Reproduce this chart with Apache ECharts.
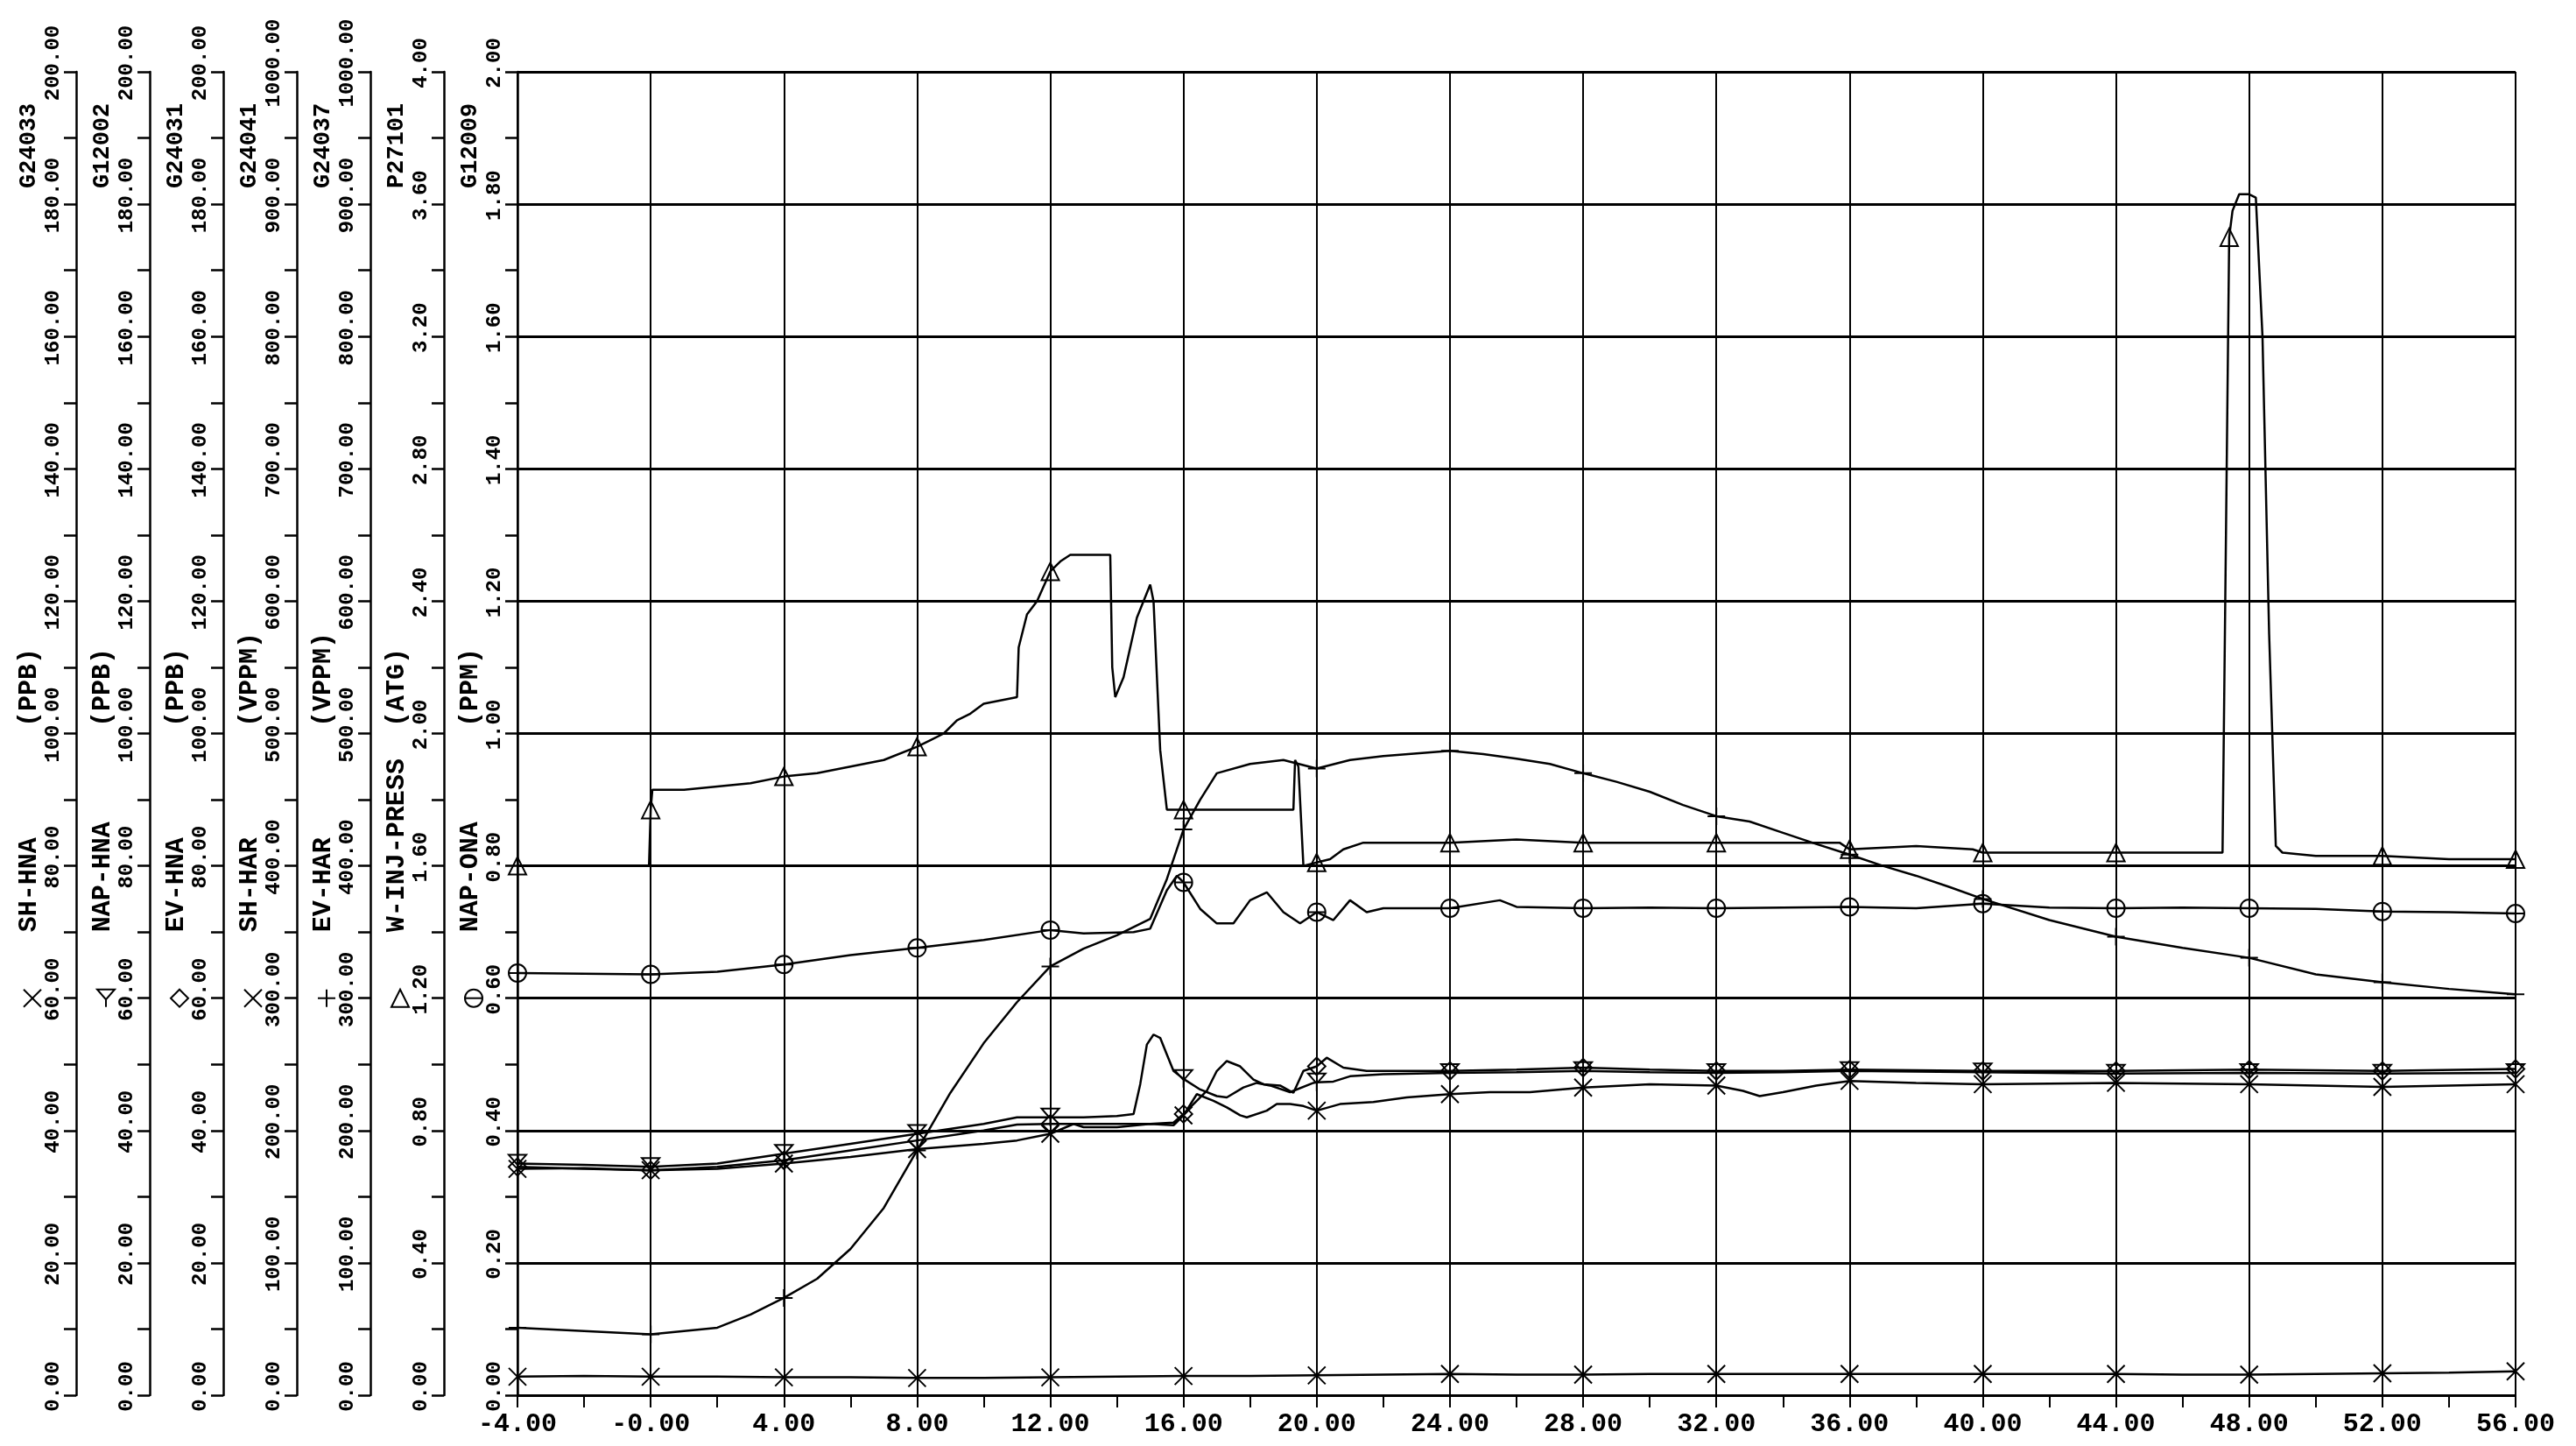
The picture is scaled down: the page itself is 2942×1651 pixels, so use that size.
<!DOCTYPE html>
<html><head><meta charset="utf-8">
<script src="https://cdn.jsdelivr.net/npm/echarts/dist/echarts.min.js"></script>
<style>html,body{margin:0;padding:0;background:#fff}#c{width:2942px;height:1651px}</style>
</head><body><div id="c"></div>
<script>
// ---------- axes ----------
const axisTags  = ['G24033','G12002','G24031','G24041','G24037','P27101','G12009'];
const axisNames = ['SH-HNA','NAP-HNA','EV-HNA','SH-HAR','EV-HAR','W-INJ-PRESS','NAP-ONA'];
const axisUnits = ['(PPB)','(PPB)','(PPB)','(VPPM)','(VPPM)','(ATG)','(PPM)'];
const axisMax   = [200,200,200,1000,1000,4,2];
const axisStep  = [20,20,20,100,100,0.4,0.2];
const xMin = -4, xMax = 56, xStep = 4;

// ---------- series (x = time, y = value in the series' own unit) ----------
const shHna = [[-4,34.2],[-2,34.3],[0,34],[2,34.2],[4,35],[6,36],[8,37.2],[10,38],[11,38.5],[12,39.5],[12.7,41],[13,40.5],[14,40.5],[15,41],[15.7,40.8],[16,42.3],[16.4,45.5],[16.9,44.5],[17.3,43.5],[17.7,42.3],[17.9,42],[18.5,43],[18.8,44],[19.2,44],[19.6,43.7],[20,43],[20.7,44],[21.7,44.3],[22.7,45],[24,45.5],[25.2,45.8],[26.4,45.8],[28,46.5],[30,47],[32,46.8],[32.8,46],[33.3,45.2],[34,45.8],[35,46.8],[36,47.5],[38,47.2],[40,47],[44,47.2],[48,47],[52,46.6],[56,47]];
const napHna = [[-4,35],[-2,34.8],[0,34.5],[2,35],[4,36.5],[6,38],[8,39.5],[10,41],[11,42],[12,42],[13,42],[14,42.2],[14.5,42.5],[14.7,47],[14.9,53],[15.1,54.5],[15.3,54],[15.5,51.5],[15.7,49],[16,47.8],[16.5,46.2],[17,45.2],[17.3,45],[17.8,46.5],[18.2,47.2],[18.6,46.8],[19.2,45.8],[19.9,47.2],[20,47.3],[20.5,47.4],[21,48.2],[22,48.5],[24,48.7],[26,48.8],[28,49],[30,48.8],[32,48.7],[34,48.8],[36,49],[38,48.9],[40,48.8],[44,48.6],[48,48.7],[52,48.6],[56,48.7]];
const evHna = [[-4,34.5],[-2,34.2],[0,34],[2,34.5],[4,35.5],[6,37],[8,38.5],[10,40],[11,40.9],[12,41],[13,41],[14,41],[15,41],[15.7,41.2],[16,42.5],[16.4,44.5],[16.7,46],[17,49],[17.3,50.5],[17.7,49.7],[18.1,47.7],[18.4,47],[18.9,46.8],[19.3,45.7],[19.6,49],[20,49.7],[20.3,51],[20.8,49.5],[21.5,49],[22,49],[24,49],[26,49.2],[28,49.5],[30,49.2],[32,49],[34,49],[36,49.2],[40,49],[44,49],[48,49.2],[52,49],[56,49.3]];
const shHar = [[-4,14],[-2,14.5],[0,14],[2,14],[4,13.5],[6,13.5],[8,13],[10,13],[12,13.5],[14,14],[16,14.5],[18,14.5],[20,15],[22,15.5],[24,16],[26,15.5],[28,15.5],[30,16],[32,16],[34,16],[36,16],[38,16],[40,16],[42,16],[44,16],[46,15.5],[48,15.5],[50,16],[52,16.5],[54,17],[56,18]];
const evHar = [[-4,51],[-2,48.5],[0,46],[1,48.5],[2,51],[3,61],[4,73.5],[5,88],[6,110.5],[7,141.5],[8,185],[9,228.5],[10,266],[11,297],[12,324],[13,337.5],[14,347.5],[15,360],[15.5,390],[16,427.5],[16.5,450],[17,470],[18,477],[19,480],[20,473.5],[21,480],[22,483],[23,485],[24,487],[25,484.5],[26,481],[27,477],[28,470],[29,463.5],[30,456],[31,446],[32,437.5],[33,433.5],[34,425],[35,416.5],[36,408.5],[37,400],[38,392.5],[39,384],[40,375],[42,359],[44,346.5],[46,338],[48,330.5],[50,318],[52,312],[54,307],[56,303]];
const wInjPress = [[-4,1.60],[-2,1.60],[-0.05,1.60],[0,1.77],[0.05,1.83],[1,1.83],[2,1.84],[3,1.85],[4,1.87],[5,1.88],[6,1.90],[7,1.92],[8,1.96],[8.4,1.98],[8.8,2.00],[9.2,2.04],[9.6,2.06],[10,2.09],[10.5,2.10],[11,2.11],[11.05,2.26],[11.3,2.36],[11.6,2.40],[12,2.49],[12.3,2.52],[12.6,2.54],[13,2.54],[13.8,2.54],[13.86,2.20],[13.95,2.11],[14.2,2.17],[14.6,2.35],[15.0,2.45],[15.1,2.40],[15.3,1.95],[15.5,1.77],[16,1.77],[17,1.77],[18,1.77],[19.3,1.77],[19.35,1.92],[19.45,1.90],[19.6,1.60],[20,1.61],[20.4,1.62],[20.8,1.65],[21.4,1.67],[22,1.67],[24,1.67],[26,1.68],[28,1.67],[30,1.67],[32,1.67],[34,1.67],[35.7,1.67],[36,1.65],[38,1.66],[39.7,1.65],[40,1.64],[42,1.64],[44,1.64],[46,1.64],[47.2,1.64],[47.4,3.50],[47.5,3.58],[47.7,3.63],[48,3.63],[48.2,3.62],[48.4,3.20],[48.6,2.30],[48.8,1.66],[49,1.64],[50,1.63],[52,1.63],[54,1.62],[56,1.62]];
const napOna = [[-4,0.638],[-2,0.637],[0,0.636],[2,0.64],[4,0.651],[6,0.665],[8,0.676],[10,0.688],[12,0.703],[13,0.698],[14.5,0.70],[15,0.705],[15.5,0.763],[15.8,0.785],[16,0.775],[16.5,0.735],[17,0.713],[17.5,0.713],[18,0.748],[18.5,0.76],[19,0.73],[19.5,0.713],[20,0.73],[20.5,0.718],[21,0.748],[21.5,0.73],[22,0.736],[24,0.736],[25.5,0.748],[26,0.738],[28,0.736],[30,0.737],[32,0.736],[34,0.737],[36,0.738],[38,0.736],[40,0.743],[42,0.737],[44,0.736],[46,0.737],[48,0.736],[50,0.735],[52,0.731],[54,0.730],[56,0.728]];

const markX = [-4,0,4,8,12,16,20,24,28,32,36,40,44,48,52,56];
const markXPress = [-4,0,4,8,12,16,20,24,28,32,36,40,44,47.4,52,56];

// ---------- style ----------
const FONT = '"Liberation Mono","DejaVu Sans Mono",monospace';
const GL = 591, GR = 69, GT = 82, GB = 58, AX_GAP = 84;
const SYM = {
  x:         {path: 'M0,0L10,10M10,0L0,10', lines: [[0,0,10,10],[10,0,0,10]]},
  plusArrow: {path: 'M0,0L10,0L5,8ZM5,8L5,14', poly: [[0,0],[10,0],[5,8]], lines: [[5,8,5,14]], h: 14},
  diamond:   {path: 'M5,0L10,5L5,10L0,5Z', poly: [[5,0],[10,5],[5,10],[0,5]]},
  plus:      {path: 'M5,0L5,10M0,5L10,5', lines: [[5,0,5,10],[0,5,10,5]]},
  triangle:  {path: 'M5,0L10,9L0,9Z', poly: [[5,0],[10,9],[0,9]], h: 9},
  circleBar: {path: 'M0,5A5,5 0 1,1 10,5A5,5 0 1,1 0,5ZM0,5L10,5', circle: [5,5,5], lines: [[0,5,10,5]]}
};
const seriesDefs = [
  {data: shHna, axis: 0, sym: SYM.x, marks: markX},
  {data: napHna, axis: 1, sym: SYM.plusArrow, marks: markX},
  {data: evHna, axis: 2, sym: SYM.diamond, marks: markX},
  {data: shHar, axis: 3, sym: SYM.x, marks: markX},
  {data: evHar, axis: 4, sym: SYM.plus, marks: markX},
  {data: wInjPress, axis: 5, sym: SYM.triangle, marks: markXPress},
  {data: napOna, axis: 6, sym: SYM.circleBar, marks: markX}
];

const black = '#000';
const yAxes = axisMax.map((mx, i) => ({
  type: 'value', position: 'left', offset: (6 - i) * AX_GAP,
  min: 0, max: mx, interval: axisStep[i],
  axisLine: {show: true, onZero: false, lineStyle: {color: black, width: 2.5}},
  axisTick: {show: true, length: 14, lineStyle: {color: black, width: 2.5}},
  minorTick: {show: true, splitNumber: 2, length: 14, lineStyle: {color: black, width: 2.5}},
  axisLabel: {rotate: 90, margin: 14, fontFamily: FONT, fontSize: 24, fontWeight: 'bold', color: black,
              padding: [0, 0, 0, 20], formatter: v => v.toFixed(2)},
  splitLine: {show: i === 6, lineStyle: {color: black, width: 3}},
  minorSplitLine: {show: false}
}));

const chart = echarts.init(document.getElementById('c'), null, {renderer: 'canvas'});
chart.setOption({
  animation: false,
  backgroundColor: '#fff',
  grid: {left: GL, right: GR, top: GT, bottom: GB, containLabel: false},
  xAxis: {
    type: 'value', min: xMin, max: xMax, interval: xStep,
    axisLine: {show: true, onZero: false, lineStyle: {color: black, width: 2}},
    axisTick: {show: true, length: 14, lineStyle: {color: black, width: 2}},
    minorTick: {show: true, splitNumber: 2, length: 14, lineStyle: {color: black, width: 2}},
    splitLine: {show: true, lineStyle: {color: black, width: 2}},
    axisLabel: {margin: 18, fontFamily: FONT, fontSize: 30, fontWeight: 'bold', color: black,
                formatter: v => (v === 0 ? '-0.00' : v.toFixed(2))}
  },
  yAxis: yAxes,
  series: seriesDefs.map(s => ({
    type: 'line', yAxisIndex: s.axis, data: s.data, silent: true,
    symbol: v => (s.marks.indexOf(v[0]) >= 0 ? 'path://' + s.sym.path : 'none'),
    symbolSize: 20, showSymbol: true, showAllSymbol: true,
    lineStyle: {color: black, width: 2.5},
    itemStyle: {color: 'rgba(0,0,0,0)', borderColor: black, borderWidth: 2},
    emphasis: {disabled: true}
  }))
});

// ---------- axis names / tags / legend symbols ----------
function legendSymbol(sym, cx, cy, size) {
  const h = sym.h || 10;
  const sx = size / 10, sy = size / h;
  const px = (x) => cx - size / 2 + x * sx, py = (y) => cy - size / 2 + y * sy;
  const st = {fill: 'none', stroke: black, lineWidth: 2};
  const out = [];
  (sym.lines || []).forEach(l => out.push({type: 'line', silent: true,
    shape: {x1: px(l[0]), y1: py(l[1]), x2: px(l[2]), y2: py(l[3])}, style: st}));
  if (sym.poly) out.push({type: 'polygon', silent: true,
    shape: {points: sym.poly.map(p => [px(p[0]), py(p[1])])}, style: st});
  if (sym.circle) out.push({type: 'circle', silent: true,
    shape: {cx: px(sym.circle[0]), cy: py(sym.circle[1]), r: sym.circle[2] * sx}, style: st});
  return out;
}
const g = [];
axisNames.forEach((nm, i) => {
  const ax = GL - (6 - i) * AX_GAP;
  const yAt = f => chart.convertToPixel({yAxisIndex: i}, axisMax[i] * f);
  const txt = (s, f, size) => ({
    type: 'text', x: ax - 54, y: yAt(f), rotation: Math.PI / 2, silent: true,
    style: {text: s, fill: black, font: 'bold ' + size + 'px ' + FONT,
            align: 'left', verticalAlign: 'middle', textAlign: 'left', textVerticalAlign: 'middle'}
  });
  g.push(txt(nm.padEnd(13, ' ') + axisUnits[i], 0.35, 30));
  g.push(txt(axisTags[i], 0.912, 27));
  legendSymbol(seriesDefs[i].sym, ax - 50, yAt(0.30), 20).forEach(e => g.push(e));
});
chart.setOption({graphic: g});
</script></body></html>
